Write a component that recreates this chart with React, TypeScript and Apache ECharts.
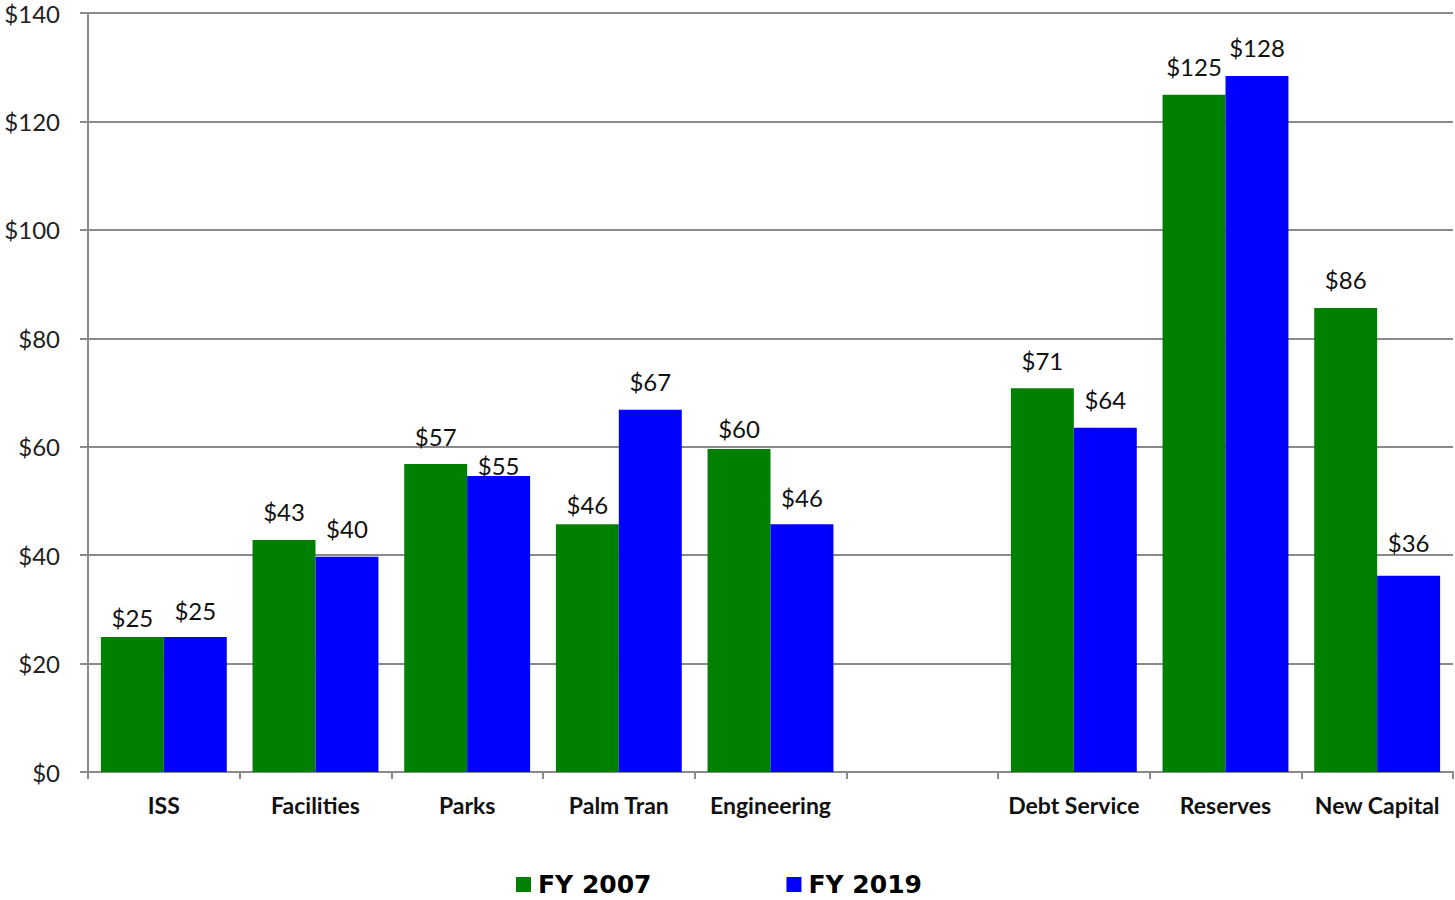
import React, { useEffect, useRef } from "react";
import * as echarts from "echarts";

const categories = ["ISS", "Facilities", "Parks", "Palm Tran", "Engineering", "", "Debt Service", "Reserves", "New Capital"];
const fy2007 = [24.9, 42.8, 56.8, 45.7, 59.6, null, 70.8, 124.9, 85.6];
const fy2019 = [24.9, 39.7, 54.6, 66.8, 45.7, null, 63.5, 128.4, 36.2];
const seriesNames = ["FY 2007", "FY 2019"];
const yTicks = [0, 20, 40, 60, 80, 100, 120, 140];

// label distance tweaks (mimicking the original's label placement)
const dist2007 = [8, 16, 16, 8, 8, 16, 16, 16, 16];
const dist2019 = [15, 16, -2, 16, 15, 16, 16, 16, 21];

const GRID = "#8a8a8a";
const FONT = "Lato, 'Open Sans', sans-serif";

export default function App() {
  const ref = useRef<HTMLDivElement>(null);
  useEffect(() => {
    const chart = echarts.init(ref.current!, null, { renderer: "svg" });
    const mk = (vals: (number | null)[], dists: number[]) =>
      vals.map((v, i) => (v == null ? null : { value: v, label: { distance: dists[i] } }));
    const labelCfg = {
      show: true,
      position: "top",
      fontFamily: FONT,
      fontSize: 24,
      color: "#111",
      formatter: (p: any) => "$" + Math.round(p.value),
    };
    chart.setOption({
      animation: false,
      backgroundColor: "#fff",
      grid: { left: 88, right: 2, top: 13, bottom: 128, containLabel: false },
      legend: {
        top: 867,
        left: 511,
        itemGap: 135,
        itemWidth: 15,
        itemHeight: 15,
        icon: "rect",
        textStyle: {
          fontFamily: "'DejaVu Sans', 'Liberation Sans', Arial, sans-serif",
          fontWeight: "bold",
          fontSize: 25,
          color: "#000",
          padding: [0, 0, 0, 2],
        },
        data: seriesNames,
      },
      xAxis: {
        type: "category",
        data: categories,
        axisLine: { lineStyle: { color: GRID, width: 2 } },
        axisTick: { show: true, length: 7, lineStyle: { color: GRID, width: 2 } },
        axisLabel: {
          interval: 0,
          margin: 21,
          fontFamily: FONT,
          fontWeight: "bold",
          fontSize: 23,
          color: "#111",
        },
      },
      yAxis: {
        type: "value",
        min: yTicks[0],
        max: yTicks[yTicks.length - 1],
        interval: 20,
        axisLine: { show: true, lineStyle: { color: GRID, width: 2 } },
        axisTick: { show: true, length: 8, lineStyle: { color: GRID, width: 2 } },
        splitLine: { lineStyle: { color: GRID, width: 2 } },
        axisLabel: {
          margin: 28,
          fontFamily: FONT,
          fontSize: 24,
          color: "#222",
          formatter: (v: number) => "$" + v,
        },
      },
      series: [
        {
          name: seriesNames[0],
          type: "bar",
          data: mk(fy2007, dist2007),
          itemStyle: { color: "#008000" },
          barGap: "0%",
          barCategoryGap: "17%",
          label: labelCfg,
        },
        {
          name: seriesNames[1],
          type: "bar",
          data: mk(fy2019, dist2019),
          itemStyle: { color: "#0000ff" },
          barGap: "0%",
          barCategoryGap: "17%",
          label: labelCfg,
        },
      ],
    });
    return () => chart.dispose();
  }, []);
  return (
    <div
      ref={ref}
      style={{ position: "absolute", left: 0, top: 0, width: 1455, height: 900, background: "#fff" }}
    />
  );
}
